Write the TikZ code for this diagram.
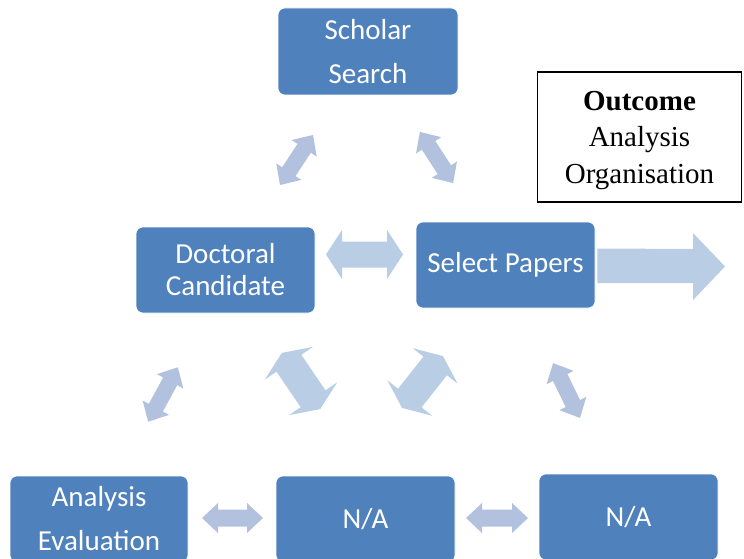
\documentclass[tikz,border=0pt]{standalone}
\usepackage{fontspec}
\setmainfont{Liberation Serif}
\newfontfamily\boxfont{Carlito}
\usetikzlibrary{calc}

\definecolor{boxblue}{RGB}{79,129,189}
\definecolor{arrowlight}{RGB}{185,205,229}
\definecolor{arrowgrey}{RGB}{178,194,222}

% block double arrow: centre x, centre y, angle, length, head width, shaft width, head length, fill
\newcommand\blockdbl[8]{%
  \begin{scope}[shift={(#1,#2)},rotate=#3]
    \fill[#8] (-#4/2,0) -- (-#4/2+#7,#5/2) -- (-#4/2+#7,#6/2) -- (#4/2-#7,#6/2)
      -- (#4/2-#7,#5/2) -- (#4/2,0) -- (#4/2-#7,-#5/2) -- (#4/2-#7,-#6/2)
      -- (-#4/2+#7,-#6/2) -- (-#4/2+#7,-#5/2) -- cycle;
  \end{scope}}

\tikzset{
  stagebox/.style={rounded corners=7pt, fill=boxblue, draw=white, line width=0.6pt,
    text=white, align=center, inner sep=0pt,
    minimum width=179pt, minimum height=86pt,
    font=\boxfont\fontsize{29}{44}\selectfont},
  notebox/.style={draw=black, line width=1.5pt, fill=white, inner sep=0pt,
    minimum width=204pt, minimum height=130pt},
  notetext/.style={align=center, inner sep=0pt, font=\fontsize{29}{36.5}\selectfont}
}

\begin{document}
\begin{tikzpicture}[x=1pt,y=-1pt]
  \useasboundingbox (0,0) rectangle (744,559);
  \clip (0,0) rectangle (744,559);
  \fill[white] (0,0) rectangle (744,559);

  % stages
  \node[stagebox, minimum width=180pt, minimum height=87pt] (scholar) at (368,51.5) {Scholar\\Search};
  \node[stagebox, font=\boxfont\fontsize{29}{32}\selectfont] (doctoral) at (225.5,270) {Doctoral\\Candidate};
  \node[stagebox] (select) at (505.5,265) {Select Papers};
  \node[stagebox, minimum width=178pt] (analysis) at (99,519) {Analysis\\Evaluation};
  \node[stagebox] (na1) at (365.5,519) {\raisebox{2pt}{N/A}};
  \node[stagebox] (na2) at (628.5,517) {\raisebox{1pt}{N/A}};

  % outcome note
  \node[notebox] (outcome) at (639.5,137) {};
  \node[notetext] (outcometext) at ($(outcome.center)+(0,3.5)$) {\textbf{Outcome}\\Analysis\\Organisation};

  % exchange arrows
  \blockdbl{296.5}{160}{56.6}{60}{30}{16}{16}{arrowgrey}
  \blockdbl{436.5}{157.5}{-57}{61}{30}{16}{16}{arrowgrey}
  \blockdbl{364.5}{254.5}{0}{77}{49}{26}{16}{arrowlight}
  \blockdbl{163}{394.5}{61.4}{62}{30}{16}{16}{arrowgrey}
  \blockdbl{301}{381}{-55.8}{68}{58}{30}{12.5}{arrowlight}
  \blockdbl{422.5}{382}{51.7}{66}{57}{30}{12.5}{arrowlight}
  \blockdbl{566.5}{390.5}{-63.9}{61}{30}{16}{16}{arrowgrey}
  \blockdbl{232.5}{518}{0}{61}{30}{17}{16}{arrowgrey}
  \blockdbl{497}{518}{0}{62}{30}{17}{16}{arrowgrey}

  % output arrow
  \coordinate (outtip) at (725,266.5);
  \fill[arrowlight] ($(select.east)+(2,-16.5)$) -- ($(outtip)+(-32,-17.5)$) -- ($(outtip)+(-32,-33.5)$)
    -- (outtip) -- ($(outtip)+(-32,33.5)$) -- ($(outtip)+(-32,16.5)$) -- ($(select.east)+(2,18)$) -- cycle;
\end{tikzpicture}
\end{document}
